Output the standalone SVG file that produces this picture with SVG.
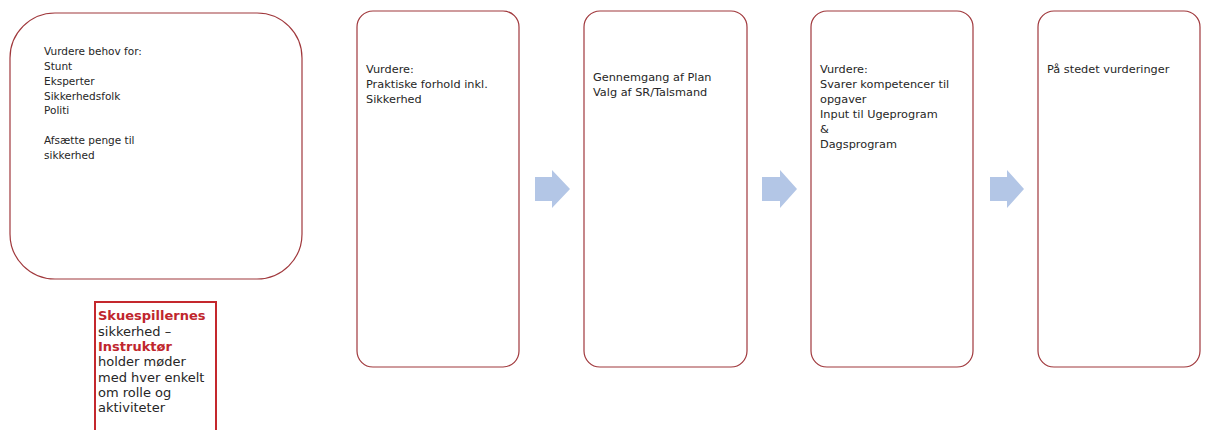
<svg xmlns="http://www.w3.org/2000/svg" width="1205" height="430" viewBox="0 0 1205 430">
  <style>
    .box { fill: #ffffff; stroke: #a0383c; stroke-width: 1.2; }
    .t1 { font-family: "DejaVu Sans", "Liberation Sans", sans-serif; font-size: 10.5px; fill: #262626; }
    .t2 { font-family: "DejaVu Sans", "Liberation Sans", sans-serif; font-size: 11.3px; fill: #262626; }
    .t3 { font-family: "DejaVu Sans", "Liberation Sans", sans-serif; font-size: 13px; fill: #262626; }
    .red { fill: #c0262d; font-weight: bold; }
    .arrow { fill: #b3c6e6; }
    .note { fill: #ffffff; stroke: #c4282d; stroke-width: 2; }
  </style>
  <rect width="1205" height="430" fill="#ffffff"/>

  <g id="node-behov">
    <rect class="box" x="10" y="13" width="292" height="266" rx="45" ry="45"/>
    <text class="t1" x="44">
      <tspan x="44" y="55">Vurdere behov for:</tspan>
      <tspan x="44" y="70">Stunt</tspan>
      <tspan x="44" y="84.5">Eksperter</tspan>
      <tspan x="44" y="99.5">Sikkerhedsfolk</tspan>
      <tspan x="44" y="114">Politi</tspan>
      <tspan x="44" y="144">Afsætte penge til</tspan>
      <tspan x="44" y="159">sikkerhed</tspan>
    </text>
  </g>

  <g id="node-note">
    <rect class="note" x="95" y="302" width="121" height="140"/>
    <text class="t3">
      <tspan x="98" y="320" class="red">Skuespillernes</tspan>
      <tspan x="98" y="335.5">sikkerhed –</tspan>
      <tspan x="98" y="351" class="red">Instruktør</tspan>
      <tspan x="98" y="366">holder møder</tspan>
      <tspan x="98" y="381.5">med hver enkelt</tspan>
      <tspan x="98" y="397">om rolle og</tspan>
      <tspan x="98" y="412">aktiviteter</tspan>
    </text>
  </g>

  <g id="node-praktisk">
    <rect class="box" x="357" y="11" width="162" height="356" rx="16" ry="16"/>
    <text class="t2">
      <tspan x="366" y="73">Vurdere:</tspan>
      <tspan x="366" y="88">Praktiske forhold inkl.</tspan>
      <tspan x="366" y="102.5">Sikkerhed</tspan>
    </text>
  </g>

  <g id="node-plan">
    <rect class="box" x="584" y="11" width="163" height="356" rx="16" ry="16"/>
    <text class="t2">
      <tspan x="593" y="81">Gennemgang af Plan</tspan>
      <tspan x="593" y="95.5">Valg af SR/Talsmand</tspan>
    </text>
  </g>

  <g id="node-kompetencer">
    <rect class="box" x="811" y="11" width="162" height="356" rx="16" ry="16"/>
    <text class="t2">
      <tspan x="820" y="73">Vurdere:</tspan>
      <tspan x="820" y="88">Svarer kompetencer til</tspan>
      <tspan x="820" y="103">opgaver</tspan>
      <tspan x="820" y="118">Input til Ugeprogram</tspan>
      <tspan x="820" y="133">&amp;</tspan>
      <tspan x="820" y="148">Dagsprogram</tspan>
    </text>
  </g>

  <g id="node-stedet">
    <rect class="box" x="1038" y="11" width="162" height="356" rx="16" ry="16"/>
    <text class="t2">
      <tspan x="1047" y="73">På stedet vurderinger</tspan>
    </text>
  </g>

  <g id="connectors">
    <polygon class="arrow" points="535,177 552,177 552,170 570,189 552,208 552,201 535,201"/>
    <polygon class="arrow" points="762,177 780,177 780,170 797,189 780,208 780,201 762,201"/>
    <polygon class="arrow" points="990,177 1007,177 1007,170 1024,189 1007,208 1007,201 990,201"/>
  </g>
</svg>
